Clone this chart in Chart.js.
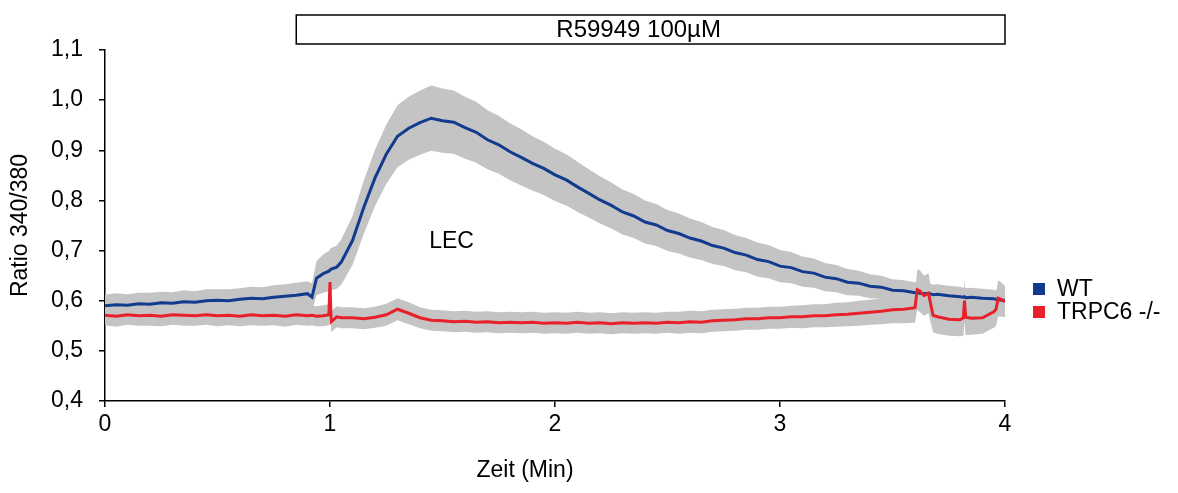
<!DOCTYPE html>
<html>
<head>
<meta charset="utf-8">
<script src="https://cdn.jsdelivr.net/npm/chart.js@4.4.0/dist/chart.umd.min.js"></script>
<style>
  html, body { margin: 0; padding: 0; background: #fff; }
  canvas { display: block; }
</style>
</head>
<body>
<canvas id="ratioChart" width="1178" height="493"></canvas>
<script>
// time in minutes
var minutes = [0, 0.05, 0.1, 0.15, 0.2, 0.25, 0.3, 0.35, 0.4, 0.45, 0.5, 0.55, 0.6, 0.65, 0.7, 0.75, 0.8, 0.85, 0.9,
    0.92, 0.94, 0.97, 0.995, 1.0, 1.005, 1.03, 1.05,
    1.1, 1.15, 1.2, 1.25, 1.3, 1.35, 1.4, 1.45, 1.5, 1.55, 1.6, 1.65, 1.7, 1.75, 1.8, 1.85, 1.9, 1.95,
    2.0, 2.05, 2.1, 2.15, 2.2, 2.25, 2.3, 2.35, 2.4, 2.45, 2.5, 2.55, 2.6, 2.65, 2.7, 2.75, 2.8, 2.85, 2.9, 2.95,
    3.0, 3.05, 3.1, 3.15, 3.2, 3.25, 3.3, 3.35, 3.4, 3.45, 3.5, 3.55, 3.6,
    3.61, 3.62, 3.64, 3.66, 3.68, 3.7,
    3.75, 3.8,
    3.815, 3.82, 3.825, 3.85,
    3.9, 3.95,
    3.96, 3.97, 3.99, 4.0];

// WT mean ratio and SEM
var wtMean = [0.590, 0.592, 0.591, 0.594, 0.593, 0.596, 0.595, 0.598, 0.597, 0.600, 0.601, 0.600, 0.603, 0.605, 0.604, 0.607, 0.609, 0.611, 0.614,
    0.607, 0.645, 0.654, 0.659, 0.661, 0.663, 0.667, 0.677,
    0.720, 0.786, 0.845, 0.892, 0.928, 0.944, 0.955, 0.964, 0.959, 0.956, 0.945, 0.936, 0.921, 0.911, 0.897, 0.886, 0.874, 0.864,
    0.851, 0.841, 0.827, 0.814, 0.801, 0.790, 0.777, 0.769, 0.757, 0.751, 0.740, 0.734, 0.725, 0.719, 0.710, 0.705, 0.696, 0.691, 0.682, 0.678,
    0.669, 0.666, 0.658, 0.655, 0.647, 0.644, 0.637, 0.635, 0.629, 0.627, 0.621, 0.620, 0.616,
    0.617, 0.615, 0.614, 0.615, 0.612, 0.613,
    0.610, 0.608,
    0.607, 0.608, 0.606, 0.607,
    0.605, 0.604,
    0.603, 0.602, 0.601, 0.600];
var wtSem = [0.022, 0.023, 0.022, 0.022, 0.023, 0.022, 0.022, 0.023, 0.022, 0.023, 0.022, 0.023, 0.022, 0.023, 0.023, 0.024, 0.024, 0.025, 0.025,
    0.028, 0.034, 0.038, 0.040, 0.041, 0.042, 0.043, 0.045,
    0.049, 0.053, 0.056, 0.059, 0.062, 0.063, 0.064, 0.065, 0.064, 0.063, 0.062, 0.061, 0.059, 0.058, 0.057, 0.056, 0.054, 0.053,
    0.052, 0.051, 0.050, 0.048, 0.047, 0.046, 0.045, 0.044, 0.043, 0.042, 0.041, 0.040, 0.039, 0.038, 0.037, 0.036, 0.035, 0.034, 0.034, 0.033,
    0.032, 0.031, 0.030, 0.029, 0.028, 0.027, 0.026, 0.025, 0.024, 0.023, 0.022, 0.021, 0.021,
    0.021, 0.021, 0.020, 0.020, 0.020, 0.020,
    0.020, 0.020,
    0.019, 0.019, 0.019, 0.019,
    0.019, 0.018,
    0.018, 0.018, 0.018, 0.018];

// TRPC6 -/- mean ratio and SEM
var koMean = [0.571, 0.569, 0.572, 0.570, 0.571, 0.569, 0.572, 0.571, 0.570, 0.572, 0.570, 0.571, 0.569, 0.572, 0.570, 0.571, 0.569, 0.572, 0.570,
    0.571, 0.569, 0.570, 0.572, 0.637, 0.558, 0.568, 0.566,
    0.566, 0.564, 0.567, 0.572, 0.583, 0.575, 0.566, 0.561, 0.560, 0.558, 0.559, 0.557, 0.558, 0.556, 0.557, 0.556, 0.557, 0.555,
    0.556, 0.555, 0.557, 0.555, 0.556, 0.554, 0.556, 0.555, 0.556, 0.555, 0.557, 0.556, 0.558, 0.557, 0.560, 0.561, 0.562, 0.564, 0.564, 0.566,
    0.566, 0.568, 0.568, 0.570, 0.570, 0.572, 0.573, 0.575, 0.577, 0.579, 0.582, 0.583, 0.586,
    0.622, 0.620, 0.610, 0.615, 0.571, 0.568,
    0.563, 0.562,
    0.566, 0.600, 0.567, 0.565,
    0.566, 0.578,
    0.583, 0.605, 0.601, 0.598];
var koSem = [0.020, 0.021, 0.020, 0.020, 0.021, 0.020, 0.020, 0.021, 0.020, 0.020, 0.021, 0.020, 0.020, 0.021, 0.020, 0.020, 0.021, 0.020, 0.020,
    0.020, 0.020, 0.021, 0.021, 0.030, 0.021, 0.021, 0.021,
    0.021, 0.021, 0.021, 0.022, 0.022, 0.022, 0.021, 0.021, 0.021, 0.021, 0.021, 0.021, 0.021, 0.021, 0.021, 0.021, 0.021, 0.021,
    0.021, 0.021, 0.021, 0.021, 0.021, 0.021, 0.021, 0.021, 0.021, 0.021, 0.021, 0.022, 0.022, 0.022, 0.022, 0.022, 0.022, 0.022, 0.022, 0.022,
    0.022, 0.022, 0.023, 0.023, 0.023, 0.024, 0.024, 0.025, 0.025, 0.026, 0.027, 0.028, 0.030,
    0.040, 0.042, 0.040, 0.040, 0.034, 0.034,
    0.033, 0.033,
    0.036, 0.042, 0.036, 0.033,
    0.032, 0.032,
    0.033, 0.036, 0.033, 0.031];

var xTicks = [0, 1, 2, 3, 4];
var yTicks = [0.4, 0.5, 0.6, 0.7, 0.8, 0.9, 1.0, 1.1];

var drugLabel = "R59949 100µM";
var drugStart = 0.85;
var drugEnd = 4;
var cellLabel = "LEC";
var seriesNames = ["WT", "TRPC6 -/-"];

var font = "'Liberation Sans', Arial, sans-serif";
var blue = '#123a8f';
var red = '#e8202a';
var band = '#c4c4c4';

function points(vals, sem, sign) {
    return minutes.map(function (t, i) {
        return { x: t, y: vals[i] + sign * (sem ? sem[i] : 0) };
    });
}

var extras = {
    id: 'extras',
    afterDraw: function (chart) {
        var c = chart.ctx;
        var xs = chart.scales.x, ys = chart.scales.y, area = chart.chartArea;
        c.save();
        // application bar
        var x0 = xs.getPixelForValue(drugStart), x1 = xs.getPixelForValue(drugEnd);
        c.strokeStyle = '#000';
        c.lineWidth = 1.5;
        c.strokeRect(x0, 15, x1 - x0, 29);
        c.fillStyle = '#000';
        c.font = '24px ' + font;
        c.textAlign = 'center';
        c.textBaseline = 'middle';
        c.fillText(drugLabel, (x0 + x1) / 2 - 12, 30);
        c.font = '23px ' + font;
        // cell label
        c.fillText(cellLabel, xs.getPixelForValue(1.54), ys.getPixelForValue(0.717));
        // x title
        c.fillText('Zeit (Min)', (area.left + area.right) / 2 - 30, 471);
        // legend
        c.textAlign = 'left';
        c.fillStyle = blue;
        c.fillRect(area.right + 28, 283, 12, 12);
        c.fillStyle = red;
        c.fillRect(area.right + 28, 306, 12, 12);
        c.fillStyle = '#000';
        c.fillText(seriesNames[0], area.right + 52, 290);
        c.fillText(seriesNames[1], area.right + 52, 313);
        c.restore();
    }
};

var ctx = document.getElementById('ratioChart').getContext('2d');
new Chart(ctx, {
    type: 'line',
    data: {
        datasets: [
            { label: 'WT upper', data: points(wtMean, wtSem, 1), borderWidth: 0, pointRadius: 0, fill: false, order: 2 },
            { label: 'WT lower', data: points(wtMean, wtSem, -1), borderWidth: 0, pointRadius: 0, fill: '-1', backgroundColor: band, order: 2 },
            { label: 'KO upper', data: points(koMean, koSem, 1), borderWidth: 0, pointRadius: 0, fill: false, order: 2 },
            { label: 'KO lower', data: points(koMean, koSem, -1), borderWidth: 0, pointRadius: 0, fill: '-1', backgroundColor: band, order: 2 },
            { label: seriesNames[0], data: points(wtMean, null, 0), borderColor: blue, borderWidth: 3, pointRadius: 0, fill: false, order: 1 },
            { label: seriesNames[1], data: points(koMean, null, 0), borderColor: red, borderWidth: 3, pointRadius: 0, fill: false, order: 0 }
        ]
    },
    options: {
        responsive: false,
        animation: false,
        devicePixelRatio: 1,
        layout: { padding: { top: 50, right: 173, left: 0, bottom: 0 } },
        plugins: {
            legend: { display: false },
            tooltip: { enabled: false },
            filler: { drawTime: 'beforeDatasetsDraw' }
        },
        scales: {
            x: {
                type: 'linear',
                min: 0,
                max: 4,
                afterBuildTicks: function (s) { s.ticks = xTicks.map(function (v) { return { value: v }; }); },
                ticks: { color: '#000', font: { family: font, size: 23 }, padding: 4, maxRotation: 0 },
                grid: { drawOnChartArea: false, drawTicks: true, tickLength: 6, color: '#000', lineWidth: 1.5 },
                border: { color: '#000', width: 1.5 },
                afterFit: function (s) { s.height = 92; }
            },
            y: {
                min: 0.4,
                max: 1.1,
                afterBuildTicks: function (s) { s.ticks = yTicks.map(function (v) { return { value: v }; }); },
                ticks: {
                    color: '#000', font: { family: font, size: 23 }, padding: 16,
                    callback: function (v) { return v.toFixed(1).replace('.', ','); }
                },
                grid: { drawOnChartArea: false, drawTicks: true, tickLength: 6, color: '#000', lineWidth: 1.5 },
                border: { color: '#000', width: 1.5 },
                title: { display: true, text: 'Ratio 340/380', color: '#000', font: { family: font, size: 23 }, padding: { top: 7, bottom: 0 } },
                afterFit: function (s) { s.width = 105; }
            }
        }
    },
    plugins: [extras]
});
</script>
</body>
</html>
